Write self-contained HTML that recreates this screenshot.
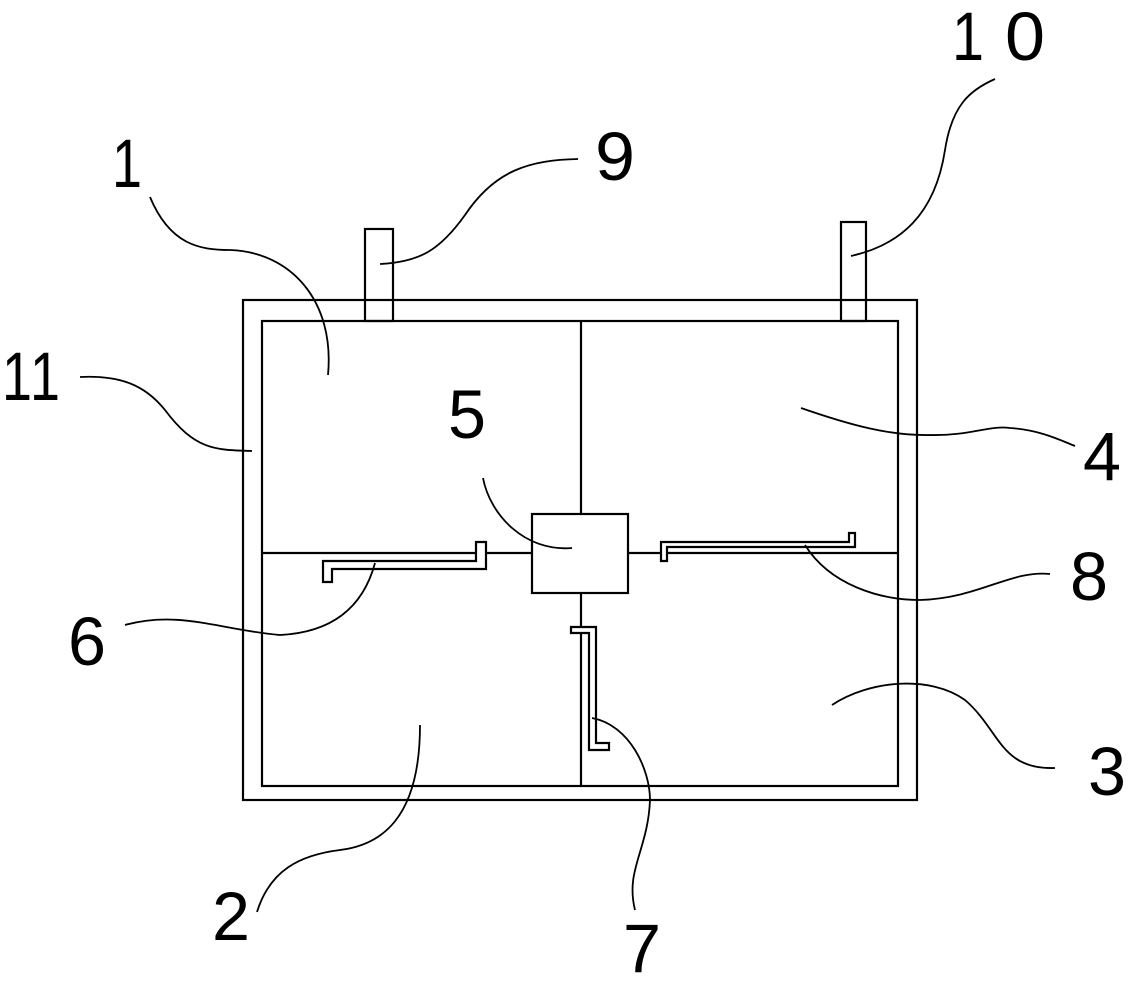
<!DOCTYPE html>
<html><head><meta charset="utf-8"><style>
html,body{margin:0;padding:0;background:#fff;}
svg{display:block;}
text{font-family:"Liberation Sans",sans-serif;font-size:62px;fill:#000;}
</style></head><body>
<svg width="1128" height="983" viewBox="0 0 1128 983" xmlns="http://www.w3.org/2000/svg">
<g fill="none" stroke="#000" stroke-width="2.2">
<rect x="243" y="300" width="674" height="500"/>
<rect x="262" y="321" width="636" height="465"/>
<line x1="581" y1="321" x2="581" y2="514"/>
<line x1="581" y1="593" x2="581" y2="786"/>
<line x1="262" y1="553" x2="532" y2="553"/>
<line x1="628" y1="553" x2="898" y2="553"/>
<rect x="532" y="514" width="96" height="79" fill="#fff"/>
<rect x="365" y="229" width="28" height="92"/>
<rect x="841" y="222" width="25" height="99"/>
<path d="M323,582 V561 H476 V542 H486 V569 H332 V582 Z" fill="#fff"/>
<path d="M661,561 V542 H849 V533 H855 V547 H667 V561 Z" fill="#fff"/>
<path d="M571,627 H596 V743 H609 V750 H589 V633 H571 Z" fill="#fff"/>
</g>
<g fill="none" stroke="#000" stroke-width="1.8">
<path d="M150,197 C170,245 200,250 230,250 C290,252 335,300 328,375"/>
<path d="M380,264 C420,262 440,250 465,215 C495,170 530,160 578,159"/>
<path d="M851,256 C900,245 935,215 945,150 C952,105 970,90 995,79"/>
<path d="M80,377 C120,375 145,385 165,410 C195,450 215,450 252,451"/>
<path d="M483,478 C490,515 525,552 572,548"/>
<path d="M801,408 C850,425 890,436 930,435 C970,436 990,425 1010,428 C1040,430 1060,440 1075,446"/>
<path d="M805,545 C830,585 880,600 920,600 C980,598 1010,570 1050,574"/>
<path d="M125,625 C180,610 220,630 280,635 C340,632 365,600 375,563"/>
<path d="M592,718 C630,725 650,770 650,800 C648,850 625,870 635,910"/>
<path d="M832,705 C870,680 930,675 965,700 C1000,730 1000,770 1055,768"/>
<path d="M257,912 C270,870 300,855 340,850 C380,845 420,820 420,725"/>
</g>
<text transform="translate(112,187) scale(1,1.1)" textLength="30" lengthAdjust="spacingAndGlyphs">1</text>
<text transform="translate(595,180) scale(1,1.1)" textLength="40" lengthAdjust="spacingAndGlyphs">9</text>
<text transform="translate(952,60) scale(1,1.1)" textLength="32" lengthAdjust="spacingAndGlyphs">1</text>
<text transform="translate(1005,60) scale(1,1.1)" textLength="40" lengthAdjust="spacingAndGlyphs">0</text>
<text transform="translate(2,400) scale(1,1.1)" textLength="30" lengthAdjust="spacingAndGlyphs">1</text>
<text transform="translate(30,400) scale(1,1.1)" textLength="30" lengthAdjust="spacingAndGlyphs">1</text>
<text transform="translate(448,438) scale(1,1.1)" textLength="38" lengthAdjust="spacingAndGlyphs">5</text>
<text transform="translate(1083,480) scale(1,1.1)" textLength="38" lengthAdjust="spacingAndGlyphs">4</text>
<text transform="translate(1070,600) scale(1,1.1)" textLength="38" lengthAdjust="spacingAndGlyphs">8</text>
<text transform="translate(68,665) scale(1,1.1)" textLength="38" lengthAdjust="spacingAndGlyphs">6</text>
<text transform="translate(1088,795) scale(1,1.1)" textLength="38" lengthAdjust="spacingAndGlyphs">3</text>
<text transform="translate(212,940) scale(1,1.1)" textLength="38" lengthAdjust="spacingAndGlyphs">2</text>
<text transform="translate(623,972) scale(1,1.1)" textLength="38" lengthAdjust="spacingAndGlyphs">7</text>
</svg>
</body></html>
